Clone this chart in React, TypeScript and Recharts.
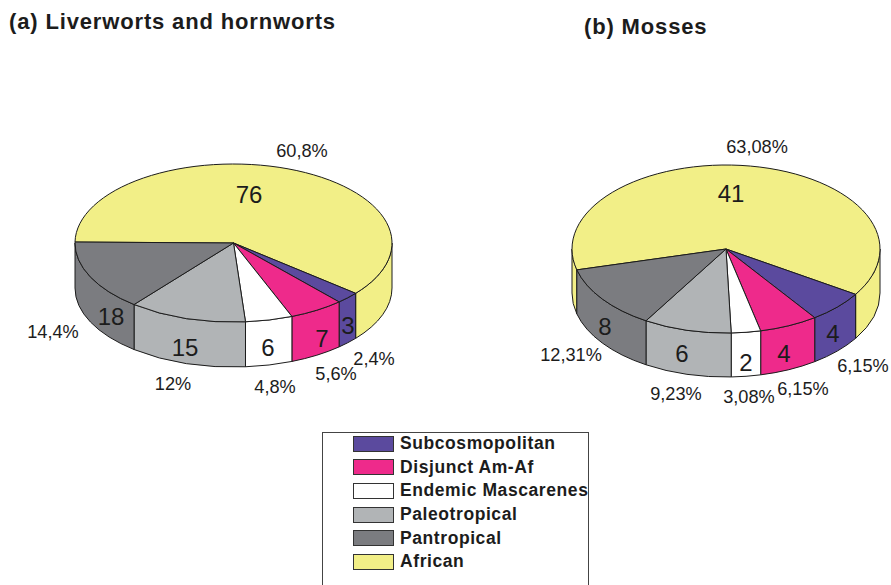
import { Legend, Pie, PieChart } from "recharts";

const CATEGORIES = ["African", "Subcosmopolitan", "Disjunct Am-Af", "Endemic Mascarenes", "Paleotropical", "Pantropical"];
const LIVERWORT_COUNTS = [76, 3, 7, 6, 15, 18];
const MOSS_COUNTS = [41, 4, 4, 2, 6, 8];
const LIVERWORT_PCT = ["60,8%", "2,4%", "5,6%", "4,8%", "12%", "14,4%"];
const MOSS_PCT = ["63,08%", "6,15%", "6,15%", "3,08%", "9,23%", "12,31%"];
const COLORS = ["#f2ef87", "#5b4a9e", "#ee2a8b", "#ffffff", "#b1b4b6", "#7b7c80"];
const LEGEND_ORDER = [1, 2, 3, 4, 5, 0];

const FONT = '"Liberation Sans", Arial, sans-serif';
const INK = "#1c1c1c";

// hand placed label spots, [x, y] for the count then the percent
const LIVERWORT_SPOTS = [
  [249, 194, 302, 150],
  [348, 325, 374, 358],
  [322, 338, 336, 373],
  [268, 347, 275, 386],
  [185, 347, 173, 383],
  [111, 316, 53, 331],
];
const MOSS_SPOTS = [
  [731, 193, 757, 146],
  [833, 333, 863, 365],
  [784, 353, 803, 388],
  [746, 362, 749, 396],
  [682, 353, 676, 393],
  [605, 326, 571, 354],
];

const toRows = (counts: number[]) => counts.map((value, i) => ({ name: CATEGORIES[i], value, fill: COLORS[i] }));

// top ellipse + rim wall, squashed from the angles the Pie hands over
function tiltedSlice(squash: number, depth: number) {
  return (props: any) => {
    const { cx, cy, outerRadius: rx, startAngle, endAngle, fill } = props;
    const ry = rx * squash;
    const pt = (deg: number, drop = 0) => {
      const r = (deg * Math.PI) / 180;
      return `${cx + rx * Math.cos(r)} ${cy - ry * Math.sin(r) + drop}`;
    };
    const walls: string[] = [];
    [-360, 0, 360].forEach((k) => {
      const hi = Math.min(startAngle, k);
      const lo = Math.max(endAngle, k - 180);
      if (hi > lo) {
        walls.push(
          `M${pt(hi)}A${rx} ${ry} 0 0 1 ${pt(lo)}L${pt(lo, depth)}A${rx} ${ry} 0 0 0 ${pt(hi, depth)}Z`,
        );
      }
    });
    const large = startAngle - endAngle > 180 ? 1 : 0;
    return (
      <g>
        {walls.map((d) => (
          <path key={d} d={d} fill={fill} stroke={INK} strokeWidth={1} strokeLinejoin="round" />
        ))}
        <path
          d={`M${cx} ${cy}L${pt(startAngle)}A${rx} ${ry} 0 ${large} 1 ${pt(endAngle)}Z`}
          fill={fill}
          stroke={INK}
          strokeWidth={1}
          strokeLinejoin="round"
        />
      </g>
    );
  };
}

function sliceLabels(spots: number[][], pct: string[]) {
  return (props: any) => {
    const { index, value } = props;
    const [x, y, px, py] = spots[index];
    return (
      <g fontFamily={FONT} textAnchor="middle" fill={INK}>
        <text x={x} y={y} dy="0.36em" fontSize={24}>
          {value}
        </text>
        <text x={px} y={py} dy="0.36em" fontSize={18.2}>
          {pct[index]}
        </text>
      </g>
    );
  };
}

function LegendBox() {
  return (
    <div
      style={{
        width: 267,
        height: 160,
        border: "1px solid #444",
        borderBottom: "none",
        boxSizing: "border-box",
        fontFamily: FONT,
      }}
    >
      <div style={{ marginTop: -1 }}>
        {LEGEND_ORDER.map((i) => (
          <div key={i} style={{ display: "flex", alignItems: "center", height: 23.6 }}>
            <span
              style={{
                width: 41,
                height: 16,
                marginLeft: 30,
                marginRight: 6,
                boxSizing: "border-box",
                flex: "none",
                background: COLORS[i],
                border: "1px solid #333",
              }}
            />
            <span
              style={{ fontSize: 17.5, fontWeight: 700, color: INK, whiteSpace: "nowrap", letterSpacing: 0.58 }}
            >
              {CATEGORIES[i]}
            </span>
          </div>
        ))}
      </div>
    </div>
  );
}

const titleStyle = {
  position: "absolute" as const,
  fontFamily: FONT,
  fontWeight: 700,
  fontSize: 22,
  color: INK,
  whiteSpace: "nowrap" as const,
  letterSpacing: 0.85,
};

export default function App() {
  return (
    <div style={{ position: "absolute", left: 0, top: 0, width: 891, height: 585, overflow: "hidden", background: "#fff" }}>
      <div style={{ ...titleStyle, left: 9, top: 9 }}>(a) Liverworts and hornworts</div>
      <div style={{ ...titleStyle, left: 584, top: 14 }}>(b) Mosses</div>
      <PieChart width={891} height={585} margin={{ top: 0, right: 0, bottom: 0, left: 0 }}>
        <Pie
          data={toRows(LIVERWORT_COUNTS)}
          dataKey="value"
          nameKey="name"
          cx={233.5}
          cy={243}
          outerRadius={158.5}
          startAngle={179.3}
          endAngle={-180.7}
          paddingAngle={0}
          shape={tiltedSlice(79 / 158.5, 45)}
          label={sliceLabels(LIVERWORT_SPOTS, LIVERWORT_PCT)}
          labelLine={false}
          isAnimationActive={false}
        />
        <Pie
          data={toRows(MOSS_COUNTS)}
          dataKey="value"
          nameKey="name"
          cx={726}
          cy={249}
          outerRadius={154}
          startAngle={194.4}
          endAngle={-165.6}
          paddingAngle={0}
          shape={tiltedSlice(84 / 154, 44)}
          label={sliceLabels(MOSS_SPOTS, MOSS_PCT)}
          labelLine={false}
          isAnimationActive={false}
        />
        <Legend
          content={() => <LegendBox />}
          wrapperStyle={{ position: "absolute", left: 322, top: 432, bottom: "auto", width: 267 }}
        />
      </PieChart>
    </div>
  );
}
